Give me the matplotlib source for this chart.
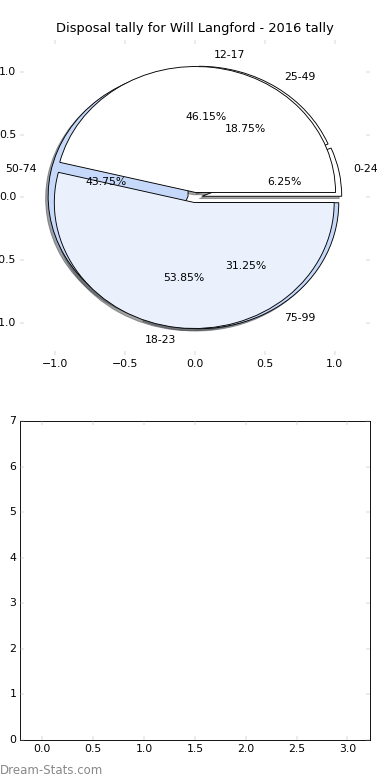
import matplotlib
matplotlib.use('Agg')
import matplotlib.pyplot as plt

plt.style.use('classic')

title = 'Disposal tally for Will Langford - 2016 tally'

# outer pie: age groups
age_labels = ['12-17', '18-23']
age_share = [46.15, 53.85]
age_colors = ['white', '#eaf1fd']

# inner pie: disposal ranges
disp_labels = ['0-24', '25-49', '50-74', '75-99']
disp_share = [6.25, 18.75, 43.75, 31.25]
disp_colors = ['white', 'white', '#c6d9fa', '#c6d9fa']

pie_ticks = [-1.0, -0.5, 0.0, 0.5, 1.0]
bar_xticks = [0.0, 0.5, 1.0, 1.5, 2.0, 2.5, 3.0]
bar_yticks = [0, 1, 2, 3, 4, 5, 6, 7]

tick_gray = '#aaaaaa'

fig = plt.figure(figsize=(6, 12), dpi=65)
ax_0 = fig.add_axes([0.0513, 0.5449, 0.897, 0.4038])
ax_1 = fig.add_axes([0.0513, 0.0513, 0.897, 0.409])

wp = dict(edgecolor='black', linewidth=1)
ax_0.pie(disp_share, labels=disp_labels, colors=disp_colors,
         explode=[0.05] * len(disp_share), autopct='%1.2f%%',
         shadow=True, wedgeprops=wp)
ax_0.pie(age_share, labels=age_labels, colors=age_colors,
         explode=[0.04] * len(age_share), autopct='%1.2f%%',
         shadow=True, wedgeprops=wp)

ax_0.set_aspect('auto')
ax_0.set_frame_on(False)
ax_0.set_xlim(-1.25, 1.25)
ax_0.set_ylim(-1.25, 1.25)
ax_0.set_xticks(pie_ticks)
ax_0.set_yticks(pie_ticks)
ax_0.tick_params(color=tick_gray)
ax_0.set_title(title, pad=9)

ax_1.set_xlim(-0.22, 3.22)
ax_1.set_ylim(0, 7)
ax_1.set_xticks(bar_xticks)
ax_1.set_yticks(bar_yticks)
ax_1.tick_params(color=tick_gray)

fig.text(0.0, 0.0128, 'Dream-Stats.com', color='#888888', fontsize=13,
         ha='left', va='center')

fig.savefig('out.png', dpi=65)
